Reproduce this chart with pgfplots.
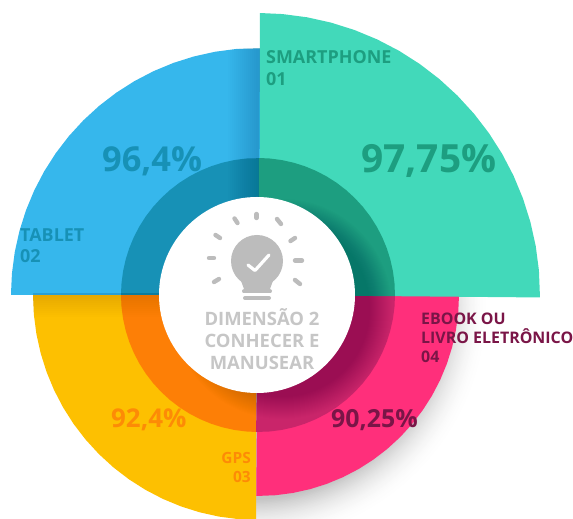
\documentclass[border=0pt]{standalone}
\usepackage{pgfplots}
\pgfplotsset{compat=1.18}
\usepackage{fontspec}
\setmainfont{Open Sans}
\definecolor{tealA}{HTML}{42D9BA}
\definecolor{tealB}{HTML}{1D9E80}
\definecolor{blueA}{HTML}{36B7EC}
\definecolor{blueB}{HTML}{1791B6}
\definecolor{yelA}{HTML}{FDC001}
\definecolor{yelB}{HTML}{FD7F06}
\definecolor{pinkA}{HTML}{FF2F7B}
\definecolor{pinkB}{HTML}{C9256A}
\definecolor{pinkT}{HTML}{7A1547}
\definecolor{orgT}{HTML}{FD8B06}
\definecolor{grayT}{HTML}{C6C6C6}
\definecolor{shadowG}{HTML}{C4C4C4}
\begin{document}
\begin{tikzpicture}
\useasboundingbox (0,0) rectangle (573bp,519bp);
% soft shadow of the pink sector, pixel coordinates from here on
\begin{scope}[x=1bp,y=-1bp,yshift=519bp]
  \begin{scope}
    \clip (256,297) rectangle (573,519);
    \foreach \i in {0,...,30} {
      \pgfmathsetmacro\pp{min(100,(\i/30)^2*100)}
      \fill[shadowG!\pp!white] (250,305) circle ({240-\i*1.5});
    }
  \end{scope}
\end{scope}
\begin{axis}[
  at={(0,0)}, anchor=south west,
  scale only axis, width=573bp, height=519bp,
  xmin=-258, xmax=315, ymin=-224, ymax=295,
  hide axis, clip=false,
  every axis plot/.append style={data cs=polar, draw=none},
]
% outer sectors: angle, radius
\addplot[fill=yelA] coordinates {(0,0)(180,225)(185,225)(190,225)(195,225)(200,225)(205,225)(210,225)(215,225)(220,225)(225,225)(230,225)(235,225)(240,225)(245,225)(250,225)(255,225)(260,225)(265,225)(269.5,225)} \closedcycle;
\addplot[fill=pinkA] coordinates {(0,0)(269.5,201)(275,201)(280,201)(285,201)(290,201)(295,201)(300,201)(305,201)(310,201)(315,201)(320,201)(325,201)(330,201)(335,201)(340,201)(345,201)(350,201)(355,201)(360,201)} \closedcycle;
\addplot[fill=blueA] coordinates {(0,0)(88,247)(95,247)(100,247)(105,247)(110,247)(115,247)(120,247)(125,247)(130,247)(135,247)(140,247)(145,247)(150,247)(155,247)(160,247)(165,247)(170,247)(175,247)(179.5,247)} \closedcycle;
\addplot[fill=tealA] coordinates {(0,0)(-0.5,282)(5,282)(10,282)(15,282)(20,282)(25,282)(30,282)(35,282)(40,282)(45,282)(50,282)(55,282)(60,282)(65,282)(70,282)(75,282)(80,282)(85,282)(89.6,282)} \closedcycle;
% inner ring
\addplot[fill=yelB] coordinates {(0,0)(180,137)(185,137)(190,137)(195,137)(200,137)(205,137)(210,137)(215,137)(220,137)(225,137)(230,137)(235,137)(240,137)(245,137)(250,137)(255,137)(260,137)(265,137)(269.2,137)} \closedcycle;
\addplot[fill=pinkB] coordinates {(0,0)(269.2,137)(275,137)(280,137)(285,137)(290,137)(295,137)(300,137)(305,137)(310,137)(315,137)(320,137)(325,137)(330,137)(335,137)(340,137)(345,137)(350,137)(355,137)(360,137)} \closedcycle;
\addplot[fill=blueB] coordinates {(0,0)(88,137)(95,137)(100,137)(105,137)(110,137)(115,137)(120,137)(125,137)(130,137)(135,137)(140,137)(145,137)(150,137)(155,137)(160,137)(165,137)(170,137)(175,137)(179.2,137)} \closedcycle;
\addplot[fill=tealB] coordinates {(0,0)(-0.5,137)(5,137)(10,137)(15,137)(20,137)(25,137)(30,137)(35,137)(40,137)(45,137)(50,137)(55,137)(60,137)(65,137)(70,137)(75,137)(80,137)(85,137)(89.6,137)} \closedcycle;
\end{axis}
\begin{scope}[x=1bp,y=-1bp,yshift=519bp]
  % darker band on the blue sector next to teal
  \begin{scope}
    \clip (258,295) circle (247);
    \foreach \k in {2,4,...,30}
      \fill[black,opacity=.006] (258-\k,40) -- (260.2,40) -- (258,293.5) -- (258-\k,293.5) -- cycle;
  \end{scope}
  % yellow darkens under the blue edge
  \begin{scope}
    \clip (258,295) circle (225);
    \foreach \k in {2,4,...,24}
      \fill[black,opacity=.006] (20,293) rectangle (255.8,293+\k);
  \end{scope}
  % shadow of the white disc on the ring
  \begin{scope}
    \clip (258,295) circle (137);
    \foreach \rr in {110,109,...,88}
      \fill[black,opacity=.007] (282,309) circle (\rr);
  \end{scope}
  \fill[white] (257,295) circle (98);
  % lamp icon
  \fill[grayT!95!black] (257,261) circle (26);
  \fill[grayT!95!black] (240,278) -- (274,278) -- (270,289) -- (244,289) -- cycle;
  \draw[grayT!95!black,line width=4bp,line cap=round] (244,291.5) -- (270,291.5);
  \draw[grayT!95!black,line width=4bp,line cap=round] (245,298) -- (269,298);
  \draw[white,line width=3.2bp,line cap=round,line join=round] (248,265) -- (255,270.5) -- (269,255);
  \foreach \a/\b/\c/\d in {256.5/214/256.5/218,234.5/218.5/237.5/223,277/219/281/224,215.5/235/220/238,295/238/290.5/241,209/258/214/258,295/260.5/302/260.5,214/282/219/279,295/280/300/284}
    \draw[grayT!95!black,line width=4.4bp,line cap=round] (\a,\b) -- (\c,\d);
  % centre text
  \node[font=\fontsize{18.5}{20}\selectfont\bfseries,text=grayT,anchor=base] at (262,326) {DIMENSÃO 2};
  \node[font=\fontsize{18.5}{20}\selectfont\bfseries,text=grayT,anchor=base] at (262,348) {CONHECER E};
  \node[font=\fontsize{18.5}{20}\selectfont\bfseries,text=grayT,anchor=base] at (262,370) {MANUSEAR};
  % sector labels
  \node[font=\fontsize{18}{20}\selectfont\bfseries,text=tealB,anchor=base west,inner sep=0] at (266,64) {SMARTPHONE};
  \node[font=\fontsize{18}{20}\selectfont\bfseries,text=tealB,anchor=base west,inner sep=0] at (266,86) {01};
  \node[font=\fontsize{39}{40}\selectfont\bfseries,text=tealB,anchor=base west,inner sep=0] at (361,173) {97,75\%};
  \node[font=\fontsize{34.5}{36}\selectfont\bfseries,text=blueB,anchor=base west,inner sep=0] at (102,172) {96,4\%};
  \node[font=\fontsize{18}{20}\selectfont\bfseries,text=blueB,anchor=base west,inner sep=0] at (20,242) {TABLET};
  \node[font=\fontsize{18}{20}\selectfont\bfseries,text=blueB,anchor=base west,inner sep=0] at (20,263) {02};
  \node[font=\fontsize{26}{28}\selectfont\bfseries,text=orgT,anchor=base west,inner sep=0] at (111,428) {92,4\%};
  \node[font=\fontsize{15.5}{18}\selectfont\bfseries,text=orgT,anchor=base east,inner sep=0] at (251,464) {GPS};
  \node[font=\fontsize{15.5}{18}\selectfont\bfseries,text=orgT,anchor=base east,inner sep=0] at (251,483) {03};
  \node[font=\fontsize{25}{28}\selectfont\bfseries,text=pinkT,anchor=base west,inner sep=0] at (331,428) {90,25\%};
  \node[font=\fontsize{16}{18}\selectfont\bfseries,text=pinkT,anchor=base west,inner sep=0] at (421,325) {EBOOK OU};
  \node[font=\fontsize{16}{18}\selectfont\bfseries,text=pinkT,anchor=base west,inner sep=0] at (421,344) {LIVRO ELETRÔNICO};
  \node[font=\fontsize{16}{18}\selectfont\bfseries,text=pinkT,anchor=base west,inner sep=0] at (421,363) {04};
\end{scope}
\end{tikzpicture}
\end{document}
